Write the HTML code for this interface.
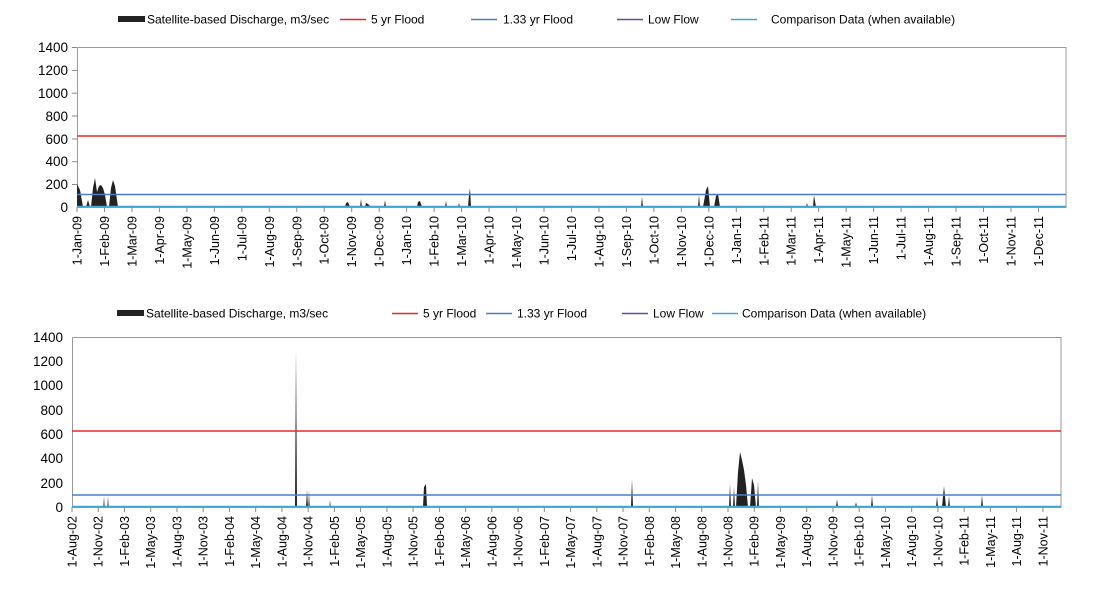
<!DOCTYPE html>
<html><head><meta charset="utf-8"><style>
body{margin:0;background:#fff;}
svg{display:block;font-family:"Liberation Sans",Arial,sans-serif;}
</style></head><body>
<svg width="1094" height="608" viewBox="0 0 1094 608" xmlns="http://www.w3.org/2000/svg">
<g font-size="12" fill="#000">
<rect x="118" y="16" width="27" height="6" fill="#222"/>
<text x="147" y="23.5">Satellite-based Discharge, m3/sec</text>
<line x1="340" y1="19.5" x2="366" y2="19.5" stroke="#e32a2a" stroke-width="1.5"/>
<text x="371" y="23.5">5 yr Flood</text>
<line x1="471" y1="19.5" x2="497" y2="19.5" stroke="#4a7ec4" stroke-width="1.5"/>
<text x="503" y="23.5">1.33 yr Flood</text>
<line x1="617" y1="19.5" x2="643" y2="19.5" stroke="#6a4b9a" stroke-width="1.5"/>
<text x="648" y="23.5">Low Flow</text>
<line x1="731" y1="19.5" x2="757" y2="19.5" stroke="#3fa6d2" stroke-width="1.5"/>
<text x="771" y="23.5">Comparison Data (when available)</text>
</g>
<g font-size="12" fill="#000">
<rect x="117" y="310" width="27" height="6" fill="#222"/>
<text x="146" y="317.5">Satellite-based Discharge, m3/sec</text>
<line x1="392" y1="313.5" x2="418" y2="313.5" stroke="#e32a2a" stroke-width="1.5"/>
<text x="423" y="317.5">5 yr Flood</text>
<line x1="486" y1="313.5" x2="512" y2="313.5" stroke="#4a7ec4" stroke-width="1.5"/>
<text x="517" y="317.5">1.33 yr Flood</text>
<line x1="622" y1="313.5" x2="648" y2="313.5" stroke="#6a4b9a" stroke-width="1.5"/>
<text x="653" y="317.5">Low Flow</text>
<line x1="712" y1="313.5" x2="738" y2="313.5" stroke="#3fa6d2" stroke-width="1.5"/>
<text x="742" y="317.5">Comparison Data (when available)</text>
</g>

<!-- TOP CHART -->
<g font-size="13.5" text-anchor="end">
<text x="68" y="52">1400</text><text x="68" y="75">1200</text><text x="68" y="98">1000</text>
<text x="68" y="121">800</text><text x="68" y="144">600</text><text x="68" y="166">400</text>
<text x="68" y="189">200</text><text x="68" y="212">0</text>
</g>
<g stroke="#888" fill="none">
<line x1="72" y1="47.5" x2="77" y2="47.5"/><line x1="72" y1="70.4" x2="77" y2="70.4"/><line x1="72" y1="93.2" x2="77" y2="93.2"/><line x1="72" y1="116" x2="77" y2="116"/><line x1="72" y1="139" x2="77" y2="139"/><line x1="72" y1="161.7" x2="77" y2="161.7"/><line x1="72" y1="184.5" x2="77" y2="184.5"/>
<polyline points="77.5,47.5 1066,47.5 1066,207.5 77.5,207.5 77.5,47.5" stroke="#999"/>
</g>
<g fill="#222">
<path d="M77,207 L77,184 L80,190 L83,207 Z M86,207 L88,200 L90,207Z M91,207 L93,188 L95,178 L97,192 L99,186 L101,185 L103,188 L105,195 L107,207Z M109,207 L111,188 L113,180 L115,186 L118,207Z"/>
<path d="M345,207 L346,203 L348,202 L350,207Z M360,207 L361,199 L362,207Z M365,207 L366,203 L368,204 L371,207Z M384,207 L385,200 L386,207Z M417,207 L418,202 L420,201 L422,207Z M445,207 L446,201 L447,207Z M458,207 L459,203 L460,207Z M468,207 L469,195 L470,188 L471,207Z M641,207 L642,197 L643,207Z M698,207 L699,195 L700,207Z M703,207 L706,190 L708,186 L710,207Z M714,207 L716,196 L718,194 L720,207Z M806,207 L807,203 L808,207Z M813,207 L814,195 L816,207Z"/>
</g>
<line x1="77" y1="136" x2="1066" y2="136" stroke="#e32a2a" stroke-width="1.5"/>
<line x1="77" y1="194.5" x2="1066" y2="194.5" stroke="#4a7ec4" stroke-width="1.5"/>
<line x1="77" y1="206.5" x2="1066" y2="206.5" stroke="#3fa6d2" stroke-width="1.5"/>
<g id="tx1" font-size="12.5"></g>

<!-- BOTTOM CHART -->
<g font-size="13.5" text-anchor="end">
<text x="63" y="342">1400</text><text x="63" y="366">1200</text><text x="63" y="390">1000</text>
<text x="63" y="415">800</text><text x="63" y="439">600</text><text x="63" y="463">400</text>
<text x="63" y="488">200</text><text x="63" y="512">0</text>
</g>
<g stroke="#888" fill="none">
<polyline points="72.5,337.5 1061,337.5 1061,507.5 72.5,507.5 72.5,337.5" stroke="#999"/>
</g>
<g fill="#222">
<path d="M295,507 L296,350 L297,507Z M306,507 L307,490 L308,507Z M308,507 L309,497 L310,507Z M423,507 L424,487 L426,484 L427,507Z M631,507 L632,479 L633,507Z M729,507 L730,484 L731,507Z M733,507 L734,487 L735,507Z M736,507 L738,472 L740,452 L742,460 L744,470 L746,485 L748,507Z M750,507 L752,478 L754,485 L756,507Z M757,507 L758,481 L759,507Z M836,507 L837,499 L838,507Z M855,507 L856,502 L857,507Z M871,507 L872,495 L873,507Z M936,507 L937,496 L938,507Z M942,507 L944,486 L946,507Z M948,507 L949,496 L950,507Z M981,507 L982,495 L983,507Z"/>
<path d="M103,507 L104,496 L105,507Z M107,507 L108,496 L109,507Z M308,507 L309,490 L310,507Z M329,507 L330,500 L331,507Z" fill="#777"/>
</g>
<line x1="72" y1="431" x2="1061" y2="431" stroke="#e32a2a" stroke-width="1.5"/>
<line x1="72" y1="495" x2="1061" y2="495" stroke="#4a7ec4" stroke-width="1.5"/>
<line x1="72" y1="506.5" x2="1061" y2="506.5" stroke="#3fa6d2" stroke-width="1.5"/>
<g id="tx2" font-size="12.5"></g>
</svg>
<script>
var ns="http://www.w3.org/2000/svg";
var mons=["Jan","Feb","Mar","Apr","May","Jun","Jul","Aug","Sep","Oct","Nov","Dec"];
var g1=document.getElementById("tx1");
for(var i=0;i<36;i++){var x=77+i*27.47;var y=9+Math.floor(i/12);
 var l=document.createElementNS(ns,"line");l.setAttribute("x1",x);l.setAttribute("x2",x);l.setAttribute("y1",207);l.setAttribute("y2",212);l.setAttribute("stroke","#888");g1.appendChild(l);
 var t=document.createElementNS(ns,"text");t.setAttribute("transform","translate("+(x+4.5)+",216) rotate(-90)");t.setAttribute("text-anchor","end");
 t.textContent="1-"+mons[i%12]+"-"+(y<10?"0":"")+y;g1.appendChild(t);}
var g2=document.getElementById("tx2");
for(var i=0;i<38;i++){var x=72+i*26.24;var m=7+i*3;var y=2+Math.floor(m/12);
 var l=document.createElementNS(ns,"line");l.setAttribute("x1",x);l.setAttribute("x2",x);l.setAttribute("y1",507);l.setAttribute("y2",512);l.setAttribute("stroke","#888");g2.appendChild(l);
 var t=document.createElementNS(ns,"text");t.setAttribute("transform","translate("+(x+4.5)+",516) rotate(-90)");t.setAttribute("text-anchor","end");
 t.textContent="1-"+mons[m%12]+"-"+(y<10?"0":"")+y;g2.appendChild(t);}
</script>
</body></html>
